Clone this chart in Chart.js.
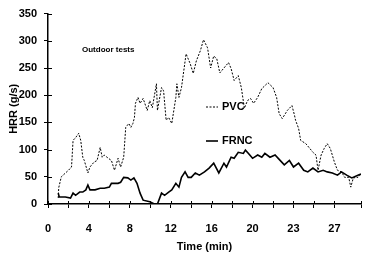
<!DOCTYPE html>
<html>
<head>
<meta charset="utf-8">
<script src="https://cdn.jsdelivr.net/npm/chart.js@4"></script>
<style>
  html, body { margin: 0; padding: 0; background: #fff; }
  #wrap { width: 375px; height: 256px; }
</style>
</head>
<body>
<div id="wrap"><canvas id="myChart" width="375" height="256"></canvas></div>
<script>
// time in minutes, HRR in g/s
let pvcTime = [1.0, 1.05, 1.3, 2.0, 2.3, 2.45, 2.7, 3.0, 3.2, 3.4, 3.55, 3.9, 4.1, 4.5, 4.8, 5.1, 5.3, 5.5, 5.9, 6.2, 6.5, 6.85, 7.1, 7.4, 7.6, 7.9, 8.1, 8.3, 8.45, 8.55, 8.8, 9.0, 9.3, 9.7, 9.95, 10.2, 10.6, 10.7, 11.1, 11.3, 11.55, 11.8, 12.1, 12.5, 12.6, 12.8, 13.05, 13.5, 13.9, 14.2, 14.5, 14.9, 15.2, 15.6, 15.9, 16.2, 16.5, 16.8, 17.2, 17.65, 17.9, 18.2, 18.6, 18.9, 19.2, 19.5, 19.8, 20.1, 20.5, 20.9, 21.5, 22.0, 22.35, 22.6, 22.9, 23.4, 23.85, 24.1, 24.2, 24.5, 24.7, 25.2, 25.6, 25.9, 26.2, 26.4, 26.7, 27.0, 27.3, 27.6, 28.0, 28.3, 28.7, 29.0, 29.4, 29.6, 29.85, 30.3, 30.6];
let pvcHrr = [11, 30, 50, 62, 68, 117, 122, 130, 117, 86, 80, 57, 68, 77, 80, 104, 86, 90, 84, 80, 62, 84, 68, 86, 141, 148, 141, 148, 159, 185, 196, 185, 194, 172, 190, 177, 221, 172, 214, 208, 154, 159, 148, 196, 221, 196, 214, 276, 258, 240, 263, 282, 302, 287, 250, 272, 267, 241, 250, 260, 249, 227, 236, 214, 176, 190, 194, 185, 196, 212, 223, 214, 196, 166, 157, 172, 181, 163, 154, 139, 117, 111, 102, 95, 90, 62, 90, 102, 111, 102, 77, 62, 59, 49, 49, 31, 48, 49, 55];

let frncTime = [1.0, 1.1, 1.7, 2.2, 2.45, 2.7, 3.1, 3.4, 3.7, 3.9, 4.1, 4.6, 5.1, 5.5, 6.0, 6.2, 6.85, 7.1, 7.4, 7.8, 8.1, 8.4, 8.7, 9.0, 9.3, 9.95, 10.4, 10.7, 11.1, 11.4, 11.8, 12.1, 12.5, 12.8, 13.05, 13.4, 13.7, 14.0, 14.4, 14.8, 15.3, 15.75, 16.2, 16.7, 17.2, 17.45, 17.9, 18.2, 18.6, 19.1, 19.3, 19.6, 20.0, 20.5, 20.9, 21.2, 21.7, 22.2, 22.6, 23.1, 23.6, 24.0, 24.5, 25.0, 25.4, 25.9, 26.4, 26.9, 27.3, 27.8, 28.3, 28.7, 29.2, 29.7, 30.3, 30.6];
let frncHrr = [20, 13, 13, 11, 20, 16, 22, 22, 26, 35, 26, 26, 29, 29, 31, 38, 38, 40, 49, 48, 44, 48, 38, 20, 7, 4, 0, 0, 20, 16, 22, 26, 38, 31, 49, 59, 49, 49, 57, 53, 59, 66, 75, 57, 75, 68, 86, 84, 95, 93, 99, 93, 84, 90, 86, 93, 86, 90, 82, 72, 80, 68, 75, 62, 59, 66, 59, 62, 59, 57, 53, 59, 53, 48, 53, 55];

let xTickLabels = ['0', '4', '8', '12', '16', '20', '23', '27'];
let seriesNames = ['PVC', 'FRNC'];

const fontFamily = '"Liberation Sans", Arial, sans-serif';

function toPoints(xs, ys) {
    return xs.map((x, i) => ({ x: x, y: ys[i] }));
}

// inline labels and crossing tick stubs
const extras = {
    id: 'extras',
    afterDraw(chart) {
        const ctx = chart.ctx;
        const xs = chart.scales.x;
        const ys = chart.scales.y;
        ctx.save();
        ctx.strokeStyle = '#000';
        ctx.lineWidth = 1;
        ys.ticks.forEach(t => {
            const py = Math.round(ys.getPixelForValue(t.value)) + 0.5;
            ctx.beginPath();
            ctx.moveTo(xs.left, py);
            ctx.lineTo(xs.left + 4, py);
            ctx.stroke();
        });
        xs.ticks.forEach(t => {
            const px = Math.round(xs.getPixelForValue(t.value)) + 0.5;
            ctx.beginPath();
            ctx.moveTo(px, ys.bottom);
            ctx.lineTo(px, ys.bottom - 3);
            ctx.stroke();
        });

        ctx.fillStyle = '#000';
        ctx.textBaseline = 'middle';
        ctx.textAlign = 'left';
        ctx.font = 'bold 8px ' + fontFamily;
        ctx.fillText('Outdoor tests', 82, 50);

        ctx.font = 'bold 11px ' + fontFamily;
        const rows = [107, 141];
        chart.data.datasets.forEach((ds, i) => {
            ctx.lineWidth = ds.borderWidth;
            ctx.setLineDash(ds.borderDash || []);
            ctx.beginPath();
            ctx.moveTo(206, rows[i]);
            ctx.lineTo(218, rows[i]);
            ctx.stroke();
            ctx.setLineDash([]);
            ctx.fillText(seriesNames[i], 222, rows[i]);
        });
        ctx.restore();
    }
};

const data = {
    datasets: [
        {
            label: seriesNames[0],
            data: toPoints(pvcTime, pvcHrr),
            borderColor: '#000',
            borderWidth: 1,
            borderDash: [2, 1.5],
            pointRadius: 0,
            tension: 0
        },
        {
            label: seriesNames[1],
            data: toPoints(frncTime, frncHrr),
            borderColor: '#000',
            borderWidth: 1.6,
            pointRadius: 0,
            tension: 0
        }
    ]
};

const config = {
    type: 'line',
    data: data,
    options: {
        responsive: false,
        animation: false,
        layout: { padding: { top: 13, right: 0, left: 0, bottom: 0 } },
        plugins: {
            legend: { display: false },
            tooltip: { enabled: false }
        },
        scales: {
            x: {
                type: 'linear',
                min: 0,
                max: 30.6,
                afterFit: function (scale) { scale.height = 52; },
                border: { display: true, color: '#000', width: 1.5 },
                grid: { drawOnChartArea: false, color: '#000', tickLength: 4 },
                ticks: {
                    stepSize: 2,
                    padding: 14,
                    color: '#000',
                    maxRotation: 0,
                    autoSkip: false,
                    font: { family: fontFamily, size: 11, weight: 'bold' },
                    callback: function (value) {
                        if (value % 4 === 0) return xTickLabels[value / 4] || '';
                        return '';
                    }
                },
                title: {
                    display: true,
                    text: 'Time (min)',
                    color: '#000',
                    padding: { top: 0, bottom: 2 },
                    font: { family: fontFamily, size: 11, weight: 'bold' }
                }
            },
            y: {
                min: 0,
                max: 350,
                afterFit: function (scale) { scale.width = 48; },
                border: { display: true, color: '#000', width: 1.5 },
                grid: { drawOnChartArea: false, color: '#000', tickLength: 4 },
                ticks: {
                    stepSize: 50,
                    padding: 7,
                    color: '#000',
                    font: { family: fontFamily, size: 11, weight: 'bold' }
                },
                title: {
                    display: true,
                    text: 'HRR (g/s)',
                    color: '#000',
                    padding: { top: 7, bottom: 0 },
                    font: { family: fontFamily, size: 11, weight: 'bold' }
                }
            }
        }
    },
    plugins: [extras]
};

var myChart = new Chart(
    document.getElementById('myChart'),
    config
);
</script>
</body>
</html>
